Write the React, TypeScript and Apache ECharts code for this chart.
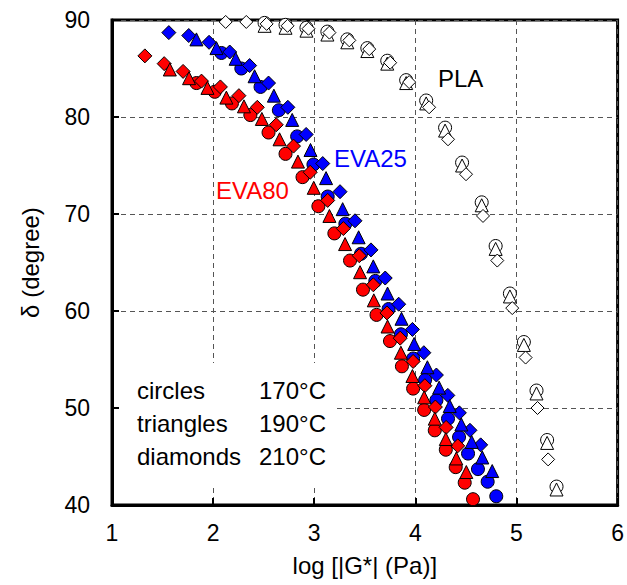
import React, { useEffect, useRef } from "react";
import * as echarts from "echarts";

const xTicks = [1, 2, 3, 4, 5, 6];
const yTicks = [40, 50, 60, 70, 80, 90];

const eva80Circles = [
  [1.835, 83.5], [2.016, 82.6], [2.186, 81.4], [2.368, 80.2], [2.548, 78.4], [2.716, 76.2],
  [2.884, 73.8], [3.041, 70.8], [3.199, 68.0], [3.354, 65.2], [3.482, 62.2], [3.616, 59.6],
  [3.749, 56.9], [3.867, 54.3], [3.978, 52.0], [4.087, 49.8], [4.192, 47.7], [4.301, 45.7],
  [4.399, 43.9], [4.488, 42.3], [4.570, 40.6],
];
const eva80Triangles = [
  [1.572, 84.9], [1.762, 84.0], [1.944, 83.0], [2.131, 82.0], [2.305, 81.1], [2.482, 79.8],
  [2.657, 77.7], [2.839, 75.4], [2.995, 72.7], [3.150, 69.8], [3.305, 66.9], [3.453, 64.0],
  [3.589, 61.1], [3.725, 58.4], [3.857, 55.7], [3.971, 53.3], [4.087, 51.1], [4.192, 48.9],
  [4.301, 46.8], [4.405, 44.8], [4.504, 43.4],
];
const eva80Diamonds = [
  [1.325, 86.3], [1.516, 85.5], [1.703, 84.7], [1.885, 83.7], [2.072, 83.1], [2.255, 82.2],
  [2.437, 81.0], [2.624, 79.2], [2.795, 77.0], [2.960, 74.3], [3.133, 71.4], [3.288, 68.5],
  [3.445, 65.7], [3.584, 62.7], [3.719, 59.8], [3.850, 57.2], [3.978, 54.8], [4.094, 52.3],
  [4.198, 50.1], [4.304, 48.0], [4.419, 46.1],
];
const eva25Circles = [
  [2.082, 86.6], [2.279, 85.0], [2.469, 83.1], [2.650, 80.7], [2.831, 78.0], [2.992, 75.1],
  [3.133, 71.8], [3.308, 69.0], [3.463, 65.9], [3.604, 63.1], [3.735, 60.2], [3.857, 57.6],
  [3.978, 55.1], [4.097, 52.9], [4.208, 50.8], [4.323, 48.9], [4.432, 47.0], [4.521, 45.3],
  [4.619, 43.7], [4.715, 42.4], [4.800, 40.9],
];
const eva25Triangles = [
  [1.835, 88.0], [2.033, 87.1], [2.223, 86.0], [2.410, 84.2], [2.601, 82.2], [2.782, 79.7],
  [2.963, 76.6], [3.117, 73.7], [3.281, 70.5], [3.439, 67.6], [3.584, 64.6], [3.725, 61.8],
  [3.863, 59.2], [3.988, 56.6], [4.119, 54.2], [4.235, 52.1], [4.340, 50.2], [4.455, 48.3],
  [4.557, 46.5], [4.662, 44.9], [4.760, 43.5],
];
const eva25Diamonds = [
  [1.562, 88.7], [1.759, 88.4], [1.960, 87.7], [2.164, 86.7], [2.361, 85.3], [2.548, 83.5],
  [2.739, 81.0], [2.920, 78.2], [3.084, 75.2], [3.255, 72.3], [3.403, 69.3], [3.561, 66.3],
  [3.702, 63.4], [3.835, 60.7], [3.971, 58.1], [4.084, 55.7], [4.208, 53.4], [4.321, 51.3],
  [4.435, 49.5], [4.540, 47.7], [4.646, 46.2],
];
const plaCircles = [
  [2.509, 89.7], [2.716, 89.5], [2.923, 89.2], [3.130, 88.8], [3.327, 88.0], [3.525, 87.1],
  [3.722, 85.8], [3.909, 83.8], [4.107, 81.7], [4.294, 78.9], [4.462, 75.3], [4.656, 71.2],
  [4.794, 66.7], [4.935, 61.8], [5.073, 56.8], [5.198, 51.8], [5.303, 46.7], [5.396, 41.9],
];
const plaTriangles = [
  [2.509, 89.4], [2.716, 89.2], [2.923, 88.9], [3.130, 88.5], [3.327, 87.7], [3.525, 86.8],
  [3.722, 85.5], [3.909, 83.5], [4.107, 81.4], [4.294, 78.6], [4.462, 75.0], [4.656, 70.9],
  [4.794, 66.4], [4.935, 61.5], [5.073, 56.5], [5.198, 51.5], [5.303, 46.4], [5.396, 41.6],
];
const plaDiamonds = [
  [2.124, 89.8], [2.328, 89.8], [2.529, 89.6], [2.736, 89.4], [2.943, 89.1], [3.150, 88.7],
  [3.347, 87.9], [3.544, 87.0], [3.751, 85.6], [3.939, 83.6], [4.136, 81.0], [4.323, 77.7],
  [4.501, 74.1], [4.669, 69.8], [4.810, 65.2], [4.958, 60.3], [5.090, 55.2], [5.208, 50.0],
  [5.313, 44.7],
];

const legendRows = [
  ["circles", "170°C"],
  ["triangles", "190°C"],
  ["diamonds", "210°C"],
];

const FONT = "Arial, 'Liberation Sans', sans-serif";
const RED = "#ff0000";
const BLUE = "#0000ff";

function scatter(name: string, data: number[][], symbol: string, color: string, size: number) {
  return {
    name,
    type: "scatter",
    data,
    symbol,
    symbolSize: size,
    clip: false,
    itemStyle: { color, borderColor: "#000", borderWidth: 1, opacity: 1 },
    emphasis: { disabled: true },
  };
}

export default function App() {
  const ref = useRef<HTMLDivElement>(null);
  useEffect(() => {
    if (!ref.current) return;
    const chart = echarts.init(ref.current, undefined, { renderer: "svg" });
    const graphic: any[] = [
      { type: "rect", z: 1, shape: { x: 120, y: 363, width: 216, height: 125 }, style: { fill: "#fff" } },
      { type: "text", z: 5, x: 438, y: 78, style: { text: "PLA", fill: "#000", font: `24px ${FONT}`, verticalAlign: "middle" } },
      { type: "text", z: 5, x: 334, y: 158, style: { text: "EVA25", fill: BLUE, font: `24px ${FONT}`, verticalAlign: "middle" } },
      { type: "text", z: 5, x: 216, y: 190, style: { text: "EVA80", fill: RED, font: `24px ${FONT}`, verticalAlign: "middle" } },
    ];
    legendRows.forEach((row, i) => {
      const y = 390 + i * 33;
      graphic.push({ type: "text", z: 5, x: 137, y, style: { text: row[0], fill: "#000", font: `24px ${FONT}`, verticalAlign: "middle" } });
      graphic.push({ type: "text", z: 5, x: 326, y, style: { text: row[1], fill: "#000", font: `24px ${FONT}`, verticalAlign: "middle", align: "right" } });
    });

    chart.setOption({
      animation: false,
      backgroundColor: "#fff",
      grid: { left: 112, right: 8, top: 20, bottom: 80, show: true, borderColor: "#000", borderWidth: 3 },
      xAxis: {
        type: "value",
        min: xTicks[0],
        max: xTicks[xTicks.length - 1],
        interval: 1,
        name: "log [|G*| (Pa)]",
        nameLocation: "middle",
        nameGap: 48,
        nameTextStyle: { fontSize: 24, color: "#000", fontFamily: FONT },
        axisLine: { lineStyle: { color: "#000", width: 3 } },
        axisTick: { inside: true, length: 7, lineStyle: { color: "#000", width: 2 } },
        axisLabel: { fontSize: 23, color: "#000", fontFamily: FONT, margin: 16 },
        splitLine: { show: true, lineStyle: { color: "#555", type: [5, 4], width: 1 } },
      },
      yAxis: {
        type: "value",
        min: yTicks[0],
        max: yTicks[yTicks.length - 1],
        interval: 10,
        name: "δ (degree)",
        nameLocation: "middle",
        nameGap: 70,
        nameTextStyle: { fontSize: 24, color: "#000", fontFamily: FONT },
        axisLine: { lineStyle: { color: "#000", width: 3 } },
        axisTick: { inside: true, length: 7, lineStyle: { color: "#000", width: 2 } },
        axisLabel: { fontSize: 23, color: "#000", fontFamily: FONT, margin: 22 },
        splitLine: { show: true, lineStyle: { color: "#555", type: [5, 4], width: 1 } },
      },
      graphic,
      series: [
        scatter("PLA 170", plaCircles, "circle", "#fff", 13),
        scatter("PLA 190", plaTriangles, "triangle", "#fff", 13),
        scatter("PLA 210", plaDiamonds, "diamond", "#fff", 13),
        scatter("EVA25 170", eva25Circles, "circle", BLUE, 13),
        scatter("EVA25 210", eva25Diamonds, "diamond", BLUE, 14),
        scatter("EVA25 190", eva25Triangles, "triangle", BLUE, 13),
        scatter("EVA80 170", eva80Circles, "circle", RED, 13),
        scatter("EVA80 210", eva80Diamonds, "diamond", RED, 14),
        scatter("EVA80 190", eva80Triangles, "triangle", RED, 13),
      ],
    });
    return () => chart.dispose();
  }, []);
  return <div ref={ref} style={{ position: "fixed", left: 0, top: 0, width: 627, height: 585 }} />;
}
